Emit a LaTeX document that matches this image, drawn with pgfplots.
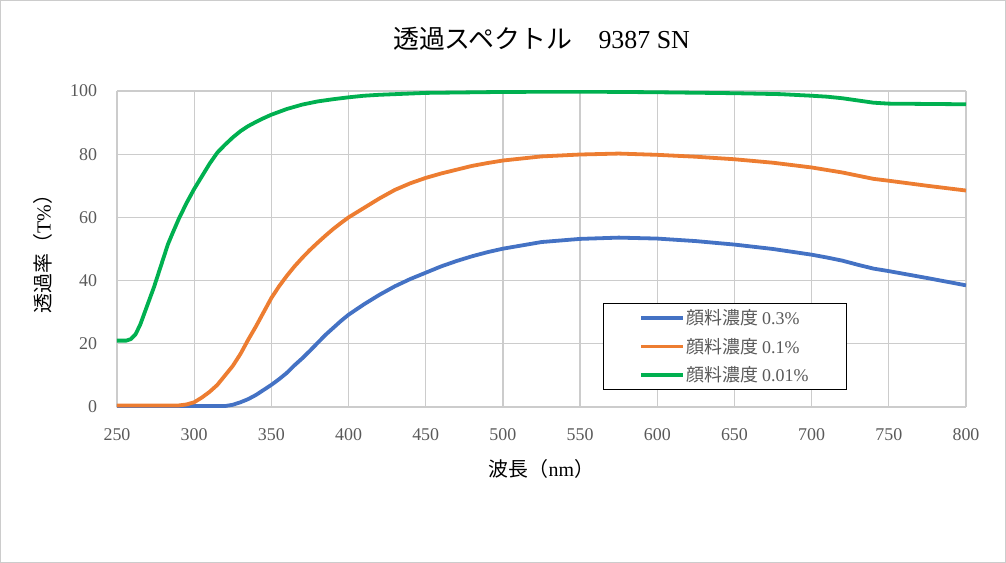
\documentclass[border=0pt]{standalone}
\usepackage{fontspec}
\setmainfont{Liberation Serif}
\newfontfamily\jp{Noto Sans CJK JP}
\usepackage{pgfplots}
\pgfplotsset{compat=1.18}
\definecolor{cblue}{HTML}{4472C4}
\definecolor{corange}{HTML}{ED7D31}
\definecolor{cgreen}{HTML}{00B050}
\definecolor{cgrid}{HTML}{CCCCCC}
\definecolor{ctick}{HTML}{595959}
\begin{document}
\begin{tikzpicture}
\begin{axis}[
  scale only axis,
  width=849bp, height=316bp,
  xmin=250, xmax=800, ymin=0, ymax=100,
  xtick={250,300,...,800}, ytick={0,20,...,100},
  grid=major,
  grid style={color=cgrid, line width=1.3bp},
  axis line style={draw=none},
  major tick length=0pt,
  /pgf/number format/assume math mode=true,
  /pgf/number format/1000 sep={},
  ticklabel style={font=\fontsize{18}{21}\selectfont, color=ctick},
  xticklabel style={yshift=-18bp},
  yticklabel style={xshift=-16.5bp},
  title={{\jp 透過スペクトル　}9387 SN},
  title style={at={(axis description cs:0.5,1.145)}, anchor=center, font=\fontsize{26}{30}\selectfont},
  xlabel={{\jp 波長（}nm{\jp ）}},
  xlabel style={at={(axis description cs:0.5,-0.195)}, anchor=center, font=\fontsize{20}{24}\selectfont},
  ylabel={{\jp 透過率（}T\%{\jp ）}},
  ylabel style={at={(axis description cs:-0.087,0.5)}, anchor=center, font=\fontsize{20}{24}\selectfont},
  legend cell align=left,
  legend style={at={(axis description cs:0.5724,0.329)}, anchor=north west,
    draw=black, line width=1.2bp, font=\fontsize{18}{21}\selectfont, text=ctick,
    inner xsep=36bp, inner ysep=4bp, row sep=8bp},
  legend image code/.code={\draw[#1, line width=3.8bp] (0cm,0cm) -- (1.45cm,0cm);},
  every axis plot/.append style={line width=3.8bp, line join=round},
]
\addplot[cblue] coordinates {
(250,0.3)(320,0.3)(325,0.7)(330,1.5)(335,2.5)(340,3.8)(345,5.4)(350,7)(355,8.8)(360,10.8)
(365,13.2)(370,15.4)(375,17.8)(380,20.3)(385,22.8)(390,25)(395,27.2)(400,29.2)(410,32.5)
(420,35.5)(430,38.2)(440,40.5)(450,42.5)(460,44.5)(470,46.2)(480,47.7)(490,49)(500,50.1)
(525,52.2)(550,53.2)(575,53.6)(600,53.3)(625,52.5)(650,51.4)(675,50)(700,48.2)(710,47.3)
(720,46.3)(730,45)(740,43.8)(750,43)(775,40.8)(800,38.5)};
\addlegendentry{{\jp 顔料濃度 }0.3\%}
\addplot[corange] coordinates {
(250,0.5)(290,0.5)(295,0.8)(300,1.5)(305,3)(310,4.8)(315,7)(320,10)(325,13)(330,16.8)
(335,21.3)(340,25.5)(345,30)(350,34.5)(355,38.2)(360,41.5)(365,44.5)(370,47.2)(375,49.7)
(380,52)(385,54.2)(390,56.3)(395,58.2)(400,60)(410,63)(420,66)(430,68.7)(440,70.8)(450,72.5)
(460,73.9)(470,75.1)(480,76.3)(490,77.2)(500,78)(525,79.3)(550,79.9)(575,80.2)(600,79.8)
(625,79.2)(650,78.4)(675,77.3)(700,75.8)(710,75)(720,74.2)(730,73.2)(740,72.2)(750,71.6)
(775,70)(800,68.5)};
\addlegendentry{{\jp 顔料濃度 }0.1\%}
\addplot[cgreen] coordinates {
(250,21)(256,21)(259,21.5)(262,23)(265,26)(268,30)(271,34)(274,38)(277,42.5)(280,47)
(283,51.5)(286,55)(290,59.5)(295,64.5)(300,69)(305,73)(310,77)(315,80.5)(320,83)(325,85.3)
(330,87.3)(335,88.9)(340,90.2)(345,91.4)(350,92.5)(360,94.3)(370,95.7)(380,96.7)(390,97.4)
(400,98)(410,98.5)(420,98.8)(430,99)(450,99.4)(500,99.7)(550,99.8)(600,99.6)(650,99.3)
(680,99)(700,98.5)(710,98.2)(720,97.7)(730,97)(740,96.3)(750,96)(775,95.9)(800,95.8)};
\addlegendentry{{\jp 顔料濃度 }0.01\%}
\end{axis}
\draw[color=cgrid, line width=1bp] ([shift={(-116.5bp,-155.5bp)}]current axis.south west) rectangle ++(1005bp,562bp);
\end{tikzpicture}
\end{document}
